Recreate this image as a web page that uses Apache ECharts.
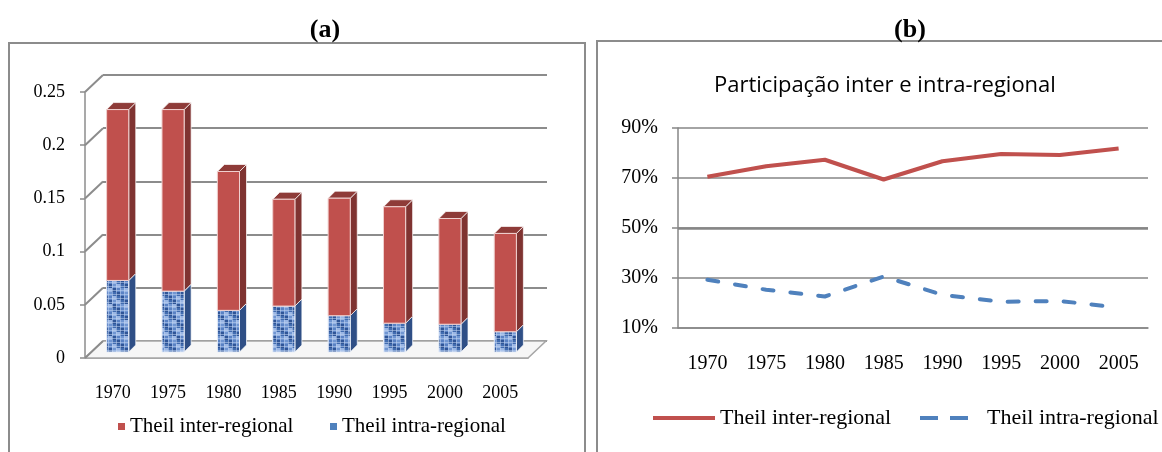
<!DOCTYPE html>
<html>
<head>
<meta charset="utf-8">
<script src="https://cdn.jsdelivr.net/npm/echarts@6/dist/echarts.min.js"></script>
<style>
  html, body { margin: 0; padding: 0; background: #fff; }
  #chart { width: 1162px; height: 452px; }
</style>
</head>
<body>
<div id="chart"></div>
<script>
// anos e valores
const years = ['1970', '1975', '1980', '1985', '1990', '1995', '2000', '2005'];
const theilInter = [0.160, 0.170, 0.130, 0.100, 0.110, 0.109, 0.099, 0.092];
const theilIntra = [0.067, 0.057, 0.039, 0.043, 0.034, 0.027, 0.026, 0.019];
const barTicks = [0, 0.05, 0.1, 0.15, 0.2, 0.25];
const shareInter = [70.5, 74.7, 77.3, 69.4, 76.7, 79.6, 79.2, 81.8];
const shareIntra = [29.3, 25.3, 22.6, 30.6, 23.3, 20.5, 20.8, 18.2];

const serif = 'Liberation Serif, Times New Roman, serif';
const gray = '#8c8c8c';
const red = '#C0504D';
const blue = '#4F81BD';

// textura azul das barras intra
function blueTexture() {
  const c = document.createElement('canvas');
  c.width = 16;
  c.height = 16;
  const g = c.getContext('2d');
  const tones = ['#2f5597', '#7096d2', '#416cb0', '#5a82c4', '#9ab6e4'];
  for (let yy = 0; yy < 4; yy++) {
    for (let xx = 0; xx < 4; xx++) {
      g.fillStyle = tones[(xx * 3 + yy * 2) % 5];
      g.fillRect(xx * 4, yy * 4, 4, 4);
    }
  }
  g.fillStyle = 'rgba(190,210,240,0.55)';
  for (let t = 0; t < 16; t += 4) {
    g.fillRect(t, 0, 1, 16);
    g.fillRect(0, t + 2, 16, 1);
  }
  return c;
}

function makeBar(front, side, top, edge) {
  return function (params, api) {
    const k = api.value(0);
    const pHi = api.coord([k, api.value(2)]);
    const pLo = api.coord([k, api.value(1)]);
    const bw = api.size([1, 0])[0] * 0.4;
    const d = 7;
    const xl = pHi[0] - bw / 2;
    const xr = pHi[0] + bw / 2;
    const yt = pHi[1];
    const yb = pLo[1];
    return {
      type: 'group',
      children: [
        {
          type: 'polygon',
          shape: { points: [[xr, yb], [xr, yt], [xr + d, yt - d], [xr + d, yb - d]] },
          style: { fill: side, stroke: 'rgba(255,255,255,0.7)', lineWidth: 1 }
        },
        {
          type: 'polygon',
          shape: { points: [[xl, yt], [xl + d, yt - d], [xr + d, yt - d], [xr, yt]] },
          style: { fill: top, stroke: 'rgba(255,255,255,0.7)', lineWidth: 1 }
        },
        {
          type: 'rect',
          shape: { x: xl, y: yt, width: bw, height: yb - yt },
          style: { fill: front, stroke: edge, lineWidth: 1 }
        }
      ]
    };
  };
}

// eixo "3D": diagonais das marcas e piso
function renderFrame(params, api) {
  const cs = params.coordSys;
  const y = api.coord([0, api.value(1)])[1];
  const children = [];
  if (params.dataIndex === 0) {
    children.push({
      type: 'polygon',
      shape: { points: [[cs.x, y], [cs.x + cs.width, y], [cs.x + cs.width + 18, y - 17], [cs.x + 18, y - 17]] },
      style: { fill: '#f6f6f6', stroke: '#a6a6a6', lineWidth: 1.5 }
    });
  }
  children.push({
    type: 'line',
    shape: { x1: cs.x, y1: y, x2: cs.x + 18, y2: y - 17 },
    style: { stroke: gray, lineWidth: 2 }
  });
  return { type: 'group', children: children };
}

const chart = echarts.init(document.getElementById('chart'), null, { renderer: 'canvas' });
const texture = blueTexture();

const option = {
  animation: false,
  backgroundColor: '#fff',
  title: [
    { text: '(a)', left: 320, top: 12, textAlign: 'center',
      textStyle: { fontFamily: serif, fontWeight: 'bold', fontSize: 26, color: '#000' } },
    { text: '(b)', left: 905, top: 12, textAlign: 'center',
      textStyle: { fontFamily: serif, fontWeight: 'bold', fontSize: 26, color: '#000' } },
    { text: 'Participação inter e intra-regional', left: 709, top: 70,
      textStyle: { fontFamily: 'Open Sans, sans-serif', fontWeight: 'normal', fontSize: 22, color: '#000' } }
  ],
  graphic: [
    { type: 'rect', shape: { x: 9, y: 43, width: 576, height: 430 },
      style: { fill: 'none', stroke: gray, lineWidth: 2 } },
    { type: 'rect', shape: { x: 597, y: 41, width: 580, height: 430 },
      style: { fill: 'none', stroke: gray, lineWidth: 2 } }
  ],
  legend: [
    { left: 113, top: 411, itemWidth: 7, itemHeight: 7, selectedMode: false,
      itemStyle: { borderWidth: 0 },
      textStyle: { fontFamily: serif, fontSize: 21, color: '#000' },
      data: [{ name: 'Theil inter-regional', icon: 'rect', itemStyle: { color: red } }] },
    { left: 325, top: 411, itemWidth: 7, itemHeight: 7, selectedMode: false,
      itemStyle: { borderWidth: 0 },
      textStyle: { fontFamily: serif, fontSize: 21, color: '#000' },
      data: [{ name: 'Theil intra-regional', icon: 'rect', itemStyle: { color: blue } }] },
    { left: 648, top: 402, itemWidth: 62, itemHeight: 4, selectedMode: false,
      itemStyle: { borderWidth: 0 },
      textStyle: { fontFamily: serif, fontSize: 22, color: '#000' },
      data: [{ name: 'Theil inter-regional', icon: 'rect', itemStyle: { color: red } }] },
    { left: 915, top: 402, itemWidth: 48, itemHeight: 4, selectedMode: false,
      itemStyle: { borderWidth: 0 },
      textStyle: { fontFamily: serif, fontSize: 22, color: '#000', padding: [0, 0, 0, 14] },
      data: [{ name: 'Theil intra-regional', icon: 'path://M0 0h18v4h-18zM30 0h18v4h-18z', itemStyle: { color: blue } }] }
  ],
  grid: [
    { left: 85, top: 92, width: 443, height: 266 },     // frente (a)
    { left: 90, top: 85, width: 443, height: 267 },     // plano das barras
    { left: 103, top: 75, width: 444, height: 266 },    // parede do fundo
    { left: 678, top: 128, width: 470, height: 200 }    // (b)
  ],
  xAxis: [
    { gridIndex: 0, type: 'category', data: years,
      axisLine: { lineStyle: { color: gray, width: 1.5 } },
      axisTick: { length: 6, lineStyle: { color: gray, width: 1.5 } },
      axisLabel: { margin: 26, fontFamily: serif, fontSize: 18, color: '#000' },
      splitLine: { show: false } },
    { gridIndex: 1, type: 'category', data: years, show: false },
    { gridIndex: 2, type: 'category', data: years, show: false },
    { gridIndex: 3, type: 'category', data: years,
      axisLine: { lineStyle: { color: '#868686', width: 1.5 } },
      axisTick: { length: 6, lineStyle: { color: '#868686', width: 1.5 } },
      axisLabel: { margin: 26, fontFamily: serif, fontSize: 20, color: '#000' } }
  ],
  yAxis: [
    { gridIndex: 0, type: 'value', min: 0, max: 0.25, interval: 0.05,
      axisLine: { show: true, lineStyle: { color: gray, width: 1.5 } },
      axisTick: { show: true, length: 5, lineStyle: { color: gray, width: 1.5 } },
      axisLabel: { margin: 20, fontFamily: serif, fontSize: 18, color: '#000' },
      splitLine: { show: false } },
    { gridIndex: 1, type: 'value', min: 0, max: 0.25, show: false, splitLine: { show: false } },
    { gridIndex: 2, type: 'value', min: 0, max: 0.25, interval: 0.05,
      axisLine: { show: false }, axisTick: { show: false }, axisLabel: { show: false },
      splitLine: { show: true, lineStyle: { color: gray, width: 2 } } },
    { gridIndex: 3, type: 'value', min: 10, max: 90, interval: 20,
      axisLine: { show: true, lineStyle: { color: '#868686', width: 1.5 } },
      axisTick: { show: true, length: 6, lineStyle: { color: '#868686', width: 1.5 } },
      axisLabel: { margin: 20, formatter: '{value}%', fontFamily: serif, fontSize: 20, color: '#000' },
      splitLine: { show: true, lineStyle: { color: '#868686', width: 1.5 } } }
  ],
  series: [
    {
      name: 'Theil inter-regional', type: 'line', xAxisIndex: 3, yAxisIndex: 3,
      data: shareInter, symbol: 'none', silent: true,
      lineStyle: { color: red, width: 4 }, itemStyle: { color: red },
      markLine: { silent: true, symbol: 'none', label: { show: false },
        lineStyle: { color: '#868686', width: 2.5, type: 'solid' },
        data: [{ yAxis: 50 }] },
      z: 5
    },
    {
      name: 'Theil intra-regional', type: 'line', xAxisIndex: 3, yAxisIndex: 3,
      data: shareIntra, symbol: 'none', silent: true,
      lineStyle: { color: blue, width: 4, type: [11, 17], cap: 'round' }, itemStyle: { color: blue },
      z: 5
    },
    {
      type: 'custom', xAxisIndex: 0, yAxisIndex: 0, silent: true,
      renderItem: renderFrame,
      data: barTicks.map(v => [0, v]),
      encode: { x: 0, y: 1 },
      z: 1
    },
    {
      name: 'Theil intra-regional', type: 'custom', xAxisIndex: 1, yAxisIndex: 1, silent: true,
      renderItem: makeBar({ image: texture, repeat: 'repeat' }, '#2f4f86', '#4a6fa8', '#e8eef8'),
      data: years.map((y, k) => [k, 0, theilIntra[k]]),
      encode: { x: 0, y: [1, 2] },
      itemStyle: { color: blue },
      z: 3
    },
    {
      name: 'Theil inter-regional', type: 'custom', xAxisIndex: 1, yAxisIndex: 1, silent: true,
      renderItem: makeBar(red, '#7f3331', '#8e3b38', '#f0d0cf'),
      data: years.map((y, k) => [k, theilIntra[k], theilIntra[k] + theilInter[k]]),
      encode: { x: 0, y: [1, 2] },
      itemStyle: { color: red },
      z: 4
    }
  ]
};

chart.setOption(option);
</script>
</body>
</html>
